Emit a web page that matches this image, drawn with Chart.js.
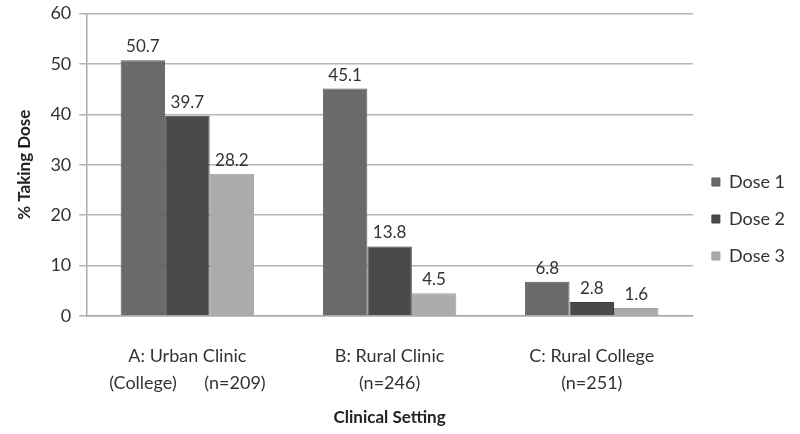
<!DOCTYPE html>
<html>
<head>
<meta charset="utf-8">
<script src="https://cdn.jsdelivr.net/npm/chart.js@4"></script>
<style>
  html, body { margin: 0; padding: 0; background: #fff; }
  #wrap { width: 800px; height: 434px; }
</style>
</head>
<body>
<div id="wrap"><canvas id="myChart" width="800" height="434"></canvas></div>
<script>
// chart data
let settings = [
    ['A: Urban Clinic', '(College)      (n=209)'],
    ['B: Rural Clinic', '(n=246)'],
    ['C: Rural College', '(n=251)']
];
let dose1 = [50.7, 45.1, 6.8];
let dose2 = [39.7, 13.8, 2.8];
let dose3 = [28.2, 4.5, 1.6];
let yTicks = [0, 10, 20, 30, 40, 50, 60];

let font = 'Lato, "Open Sans", sans-serif';

// draws the value above each bar
let valueLabels = {
    id: 'valueLabels',
    afterDatasetsDraw(chart) {
        let ctx = chart.ctx;
        ctx.save();
        ctx.font = '17px ' + font;
        ctx.fillStyle = '#333';
        ctx.textAlign = 'center';
        ctx.textBaseline = 'bottom';
        chart.data.datasets.forEach((ds, i) => {
            chart.getDatasetMeta(i).data.forEach((bar, j) => {
                ctx.fillText(ds.data[j].toFixed(1), bar.x, bar.y - 5);
            });
        });
        ctx.restore();
    }
};

new Chart(document.getElementById('myChart'), {
    type: 'bar',
    data: {
        labels: settings,
        datasets: [
            {label: 'Dose 1', data: dose1, backgroundColor: '#6a6a6a', borderColor: '#5a5a5a', borderWidth: 1},
            {label: 'Dose 2', data: dose2, backgroundColor: '#4a4a4a', borderColor: '#3e3e3e', borderWidth: 1},
            {label: 'Dose 3', data: dose3, backgroundColor: '#ababab', borderColor: '#a0a0a0', borderWidth: 1}
        ]
    },
    options: {
        responsive: false,
        animation: false,
        layout: {padding: {top: 4, left: 10, right: 5}},
        categoryPercentage: 0.66,
        barPercentage: 1.0,
        plugins: {
            legend: {
                position: 'right',
                labels: {
                    boxWidth: 8,
                    boxHeight: 8,
                    padding: 19,
                    color: '#333',
                    font: {family: font, size: 18}
                }
            },
            tooltip: {enabled: false}
        },
        scales: {
            x: {
                afterFit: axis => {
                    axis.height = 118;
                },
                grid: {display: false, drawTicks: false},
                border: {color: '#aaa', width: 1.5},
                ticks: {
                    color: '#333',
                    padding: 27,
                    font: {family: font, size: 18, lineHeight: 1.5},
                    maxRotation: 0
                },
                title: {
                    display: true,
                    text: 'Clinical Setting',
                    color: '#222',
                    font: {family: font, size: 17, weight: 'bold'},
                    padding: {top: 8, bottom: 6}
                }
            },
            y: {
                min: 0,
                max: 60,
                afterBuildTicks: axis => {
                    axis.ticks = yTicks.map(v => ({value: v}));
                },
                grid: {color: '#b4b4b4', lineWidth: 1.5, tickLength: 7},
                border: {color: '#aaa', width: 1.5},
                ticks: {
                    color: '#333',
                    padding: 8,
                    font: {family: font, size: 18, lineHeight: 0.6}
                },
                title: {
                    display: true,
                    text: '% Taking Dose',
                    color: '#222',
                    font: {family: font, size: 17, weight: 'bold'},
                    padding: {top: 4, bottom: 8}
                }
            }
        }
    },
    plugins: [valueLabels]
});
</script>
</body>
</html>
